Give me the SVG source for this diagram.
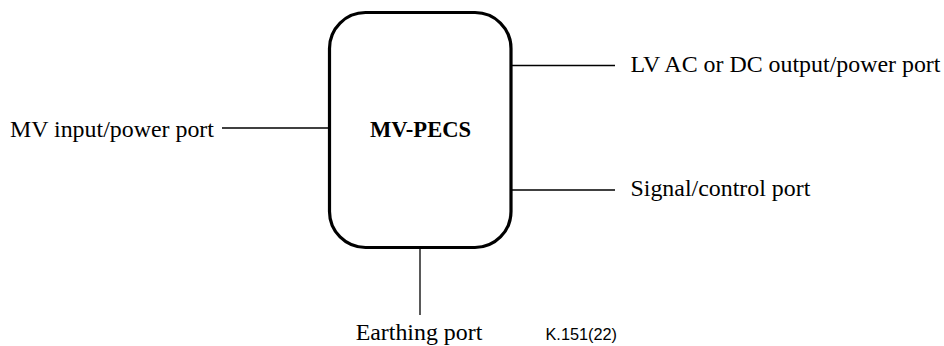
<svg xmlns="http://www.w3.org/2000/svg" width="944" height="346" viewBox="0 0 944 346">
<style>
.lbl{font-family:"Liberation Serif","Times New Roman",serif;font-size:23.9px;fill:#000}
.box{fill:#fff;stroke:#000;stroke-width:3.2}
.conn line{stroke:#000;stroke-width:1.3}
.ref{font-family:"Liberation Sans",Arial,sans-serif;font-size:16.3px;fill:#000}
</style>
<g id="connectors" class="conn">
<line x1="222" y1="128" x2="329" y2="128"/>
<line x1="511" y1="65.5" x2="615" y2="65.5"/>
<line x1="511" y1="190" x2="615" y2="190"/>
<line x1="420" y1="248" x2="420" y2="315"/>
</g>
<g id="mv-pecs">
<rect class="box" x="329.5" y="12.5" width="181.5" height="235" rx="36" ry="36"/>
<text x="420.5" y="137" text-anchor="middle" style="font-family:'Liberation Serif','Times New Roman',serif;font-size:22.6px;font-weight:bold">MV-PECS</text>
</g>
<g id="mv-input"><text class="lbl" x="10" y="137">MV input/power port</text></g>
<g id="lv-output"><text class="lbl" x="630.5" y="71.5">LV AC or DC output/power port</text></g>
<g id="signal"><text class="lbl" x="630.5" y="195.5">Signal/control port</text></g>
<g id="earthing"><text class="lbl" x="419" y="340" text-anchor="middle">Earthing port</text></g>
<text class="ref" x="545.5" y="340">K.151(22)</text>
</svg>
